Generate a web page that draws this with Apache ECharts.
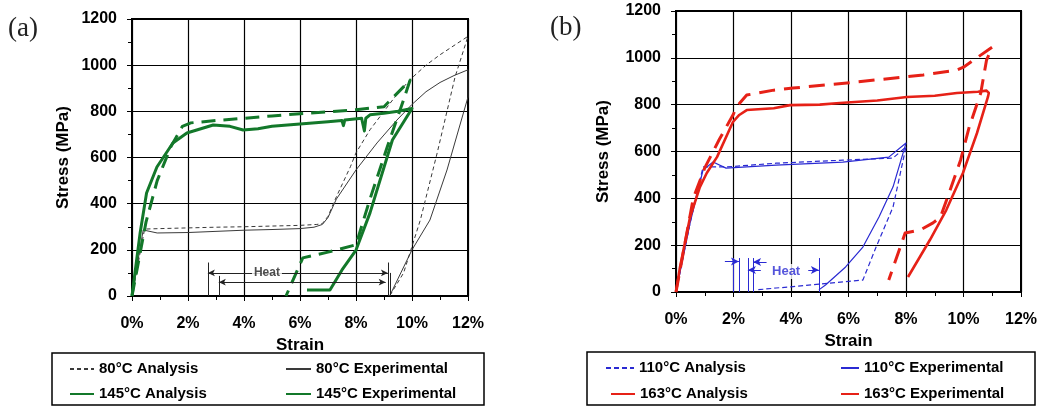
<!DOCTYPE html>
<html><head><meta charset="utf-8">
<script src="https://cdn.jsdelivr.net/npm/echarts@6/dist/echarts.min.js"></script>
<style>html,body{margin:0;padding:0;background:#fff}#c{width:1041px;height:407px}</style>
</head><body><div id="c"></div>
<script>
// ---------- tick labels ----------
const strainTicks = ['0%', '2%', '4%', '6%', '8%', '10%', '12%'];
const stressTicks = ['0', '200', '400', '600', '800', '1000', '1200'];

// ---------- panel (a) ----------
const a80AnaStrain = [0, 0.45, 1, 2, 3, 4, 5, 6, 6.6, 6.8, 7.0, 7.3, 7.8, 8.0, 8.5, 9.0, 9.5, 10, 10.5, 11, 11.5, 12, 11.54, 10.9, 10.3, 9.7, 9.2];
const a80AnaStress = [0, 290, 292, 295, 298, 300, 303, 306, 310, 314, 345, 430, 560, 620, 720, 800, 880, 945, 1000, 1045, 1085, 1125, 950, 620, 330, 100, 0];

const a80ExpStrain = [0, 0.4, 0.9, 2, 3, 4, 5, 6, 6.5, 6.8, 7.0, 7.3, 8.0, 8.75, 9.46, 10, 10.5, 11, 11.5, 12, 12, 11.25, 10.64, 10, 9.6, 9.2];
const a80ExpStress = [0, 286, 273, 275, 280, 285, 288, 292, 298, 310, 340, 420, 546, 663, 762, 830, 885, 925, 955, 980, 862, 546, 329, 200, 100, 0];

const a145AnaStrain = [0, 0.5, 0.9, 1.4, 1.8, 2.1, 3, 4, 5, 6, 7, 8, 9, 9.93, 9.7, 9.1, 8.5, 8.0, 7.0, 6.1, 5.9, 5.5];
const a145AnaStress = [0, 320, 500, 650, 735, 750, 760, 770, 780, 790, 798, 807, 820, 935, 850, 640, 420, 222, 190, 165, 110, 0];

const a145ExpStrain = [0, 0.29, 0.52, 0.89, 1.46, 1.96, 2.9, 3.5, 3.97, 4.5, 5, 6, 7, 7.5, 7.55, 7.6, 8.2, 8.3, 8.35, 8.5, 9, 9.5, 10, 9.93, 9.3, 8.5, 8.0, 7.5, 7.07, 6.25];
const a145ExpStress = [0, 273, 446, 559, 663, 706, 741, 735, 719, 725, 735, 745, 755, 760, 738, 762, 770, 715, 770, 785, 792, 800, 812, 806, 676, 360, 199, 113, 26, 26];

// heat annotation (a): vertical markers [strain, top stress] and arrows [from, to, stress]
const aHeatVert = [[2.71, 145], [3.1, 87], [9.14, 145], [9.22, 100]];
const aHeatArrows = [[2.71, 9.14, 100], [3.1, 9.06, 60]];
const aHeatText = [4.82, 100];

// ---------- panel (b) ----------
const b110AnaStrain = [0, 0.5, 0.94, 1.74, 3.48, 5.8, 7.55, 8.0, 7.55, 6.96, 6.5, 5.36, 4, 3.48, 2.8];
const b110AnaStress = [0, 300, 534, 534, 550, 563, 572, 620, 363, 192, 51, 38, 22, 17, 9];

const b110ExpStrain = [0, 0.5, 0.94, 1.29, 1.74, 3.48, 5.8, 7.4, 8.0, 7.55, 7.06, 6.5, 5.9, 5.2, 4.97];
const b110ExpStress = [0, 300, 521, 555, 529, 542, 555, 576, 636, 449, 320, 192, 107, 30, 9];

const b163AnaStrain = [0, 0.3, 0.6, 1.0, 1.5, 2.0, 2.1, 2.46, 3.4, 4.07, 6.3, 8.6, 9.77, 10.0, 11.0, 10.8, 10.6, 10.2, 9.9, 9.5, 9.2, 8.94, 8.5, 7.97, 7.8, 7.4];
const b163AnaStress = [0, 200, 400, 530, 650, 760, 790, 841, 862, 871, 897, 927, 948, 960, 1046, 990, 850, 705, 564, 423, 320, 295, 265, 252, 192, 51];

const b163ExpStrain = [0, 0.14, 0.49, 0.83, 1.07, 1.43, 1.98, 2.2, 2.46, 3.4, 3.97, 5.0, 5.7, 7.0, 8.03, 9.0, 9.77, 10.5, 10.8, 10.88, 10.85, 10.47, 9.98, 9.4, 8.83, 8.07];
const b163ExpStress = [0, 107, 320, 448, 508, 577, 726, 756, 777, 785, 798, 800, 807, 818, 833, 838, 850, 855, 860, 850, 833, 679, 508, 350, 222, 64];

const bHeatVert = [[1.98, 145], [2.19, 145], [2.5, 145], [2.68, 145], [4.97, 145]];
const bHeatArrows = [[1.7, 2.19, 130], [3.15, 2.68, 128], [2.95, 2.5, 94], [4.6, 4.97, 94]];
const bHeatText = [3.83, 88];

// ---------- build ----------
const FONT = 'Liberation Sans';
const zip = (xs, ys) => xs.map((x, i) => [x, ys[i]]);

function xAx(gi, gap) {
  return {
    type: 'value', gridIndex: gi, min: 0, max: 12, interval: 2,
    name: 'Strain', nameLocation: 'middle', nameGap: gap,
    nameTextStyle: { fontFamily: FONT, fontWeight: 'bold', fontSize: 17, color: '#000' },
    axisLine: { show: true, lineStyle: { color: '#000', width: 2 } },
    axisTick: { show: true, inside: false, length: 5, lineStyle: { color: '#000', width: 1 } },
    minorTick: { show: true, splitNumber: 2, length: 4, lineStyle: { color: '#000', width: 1 } },
    splitLine: { show: true, lineStyle: { color: '#000', width: 1.2 } },
    axisLabel: { margin: 20, fontFamily: FONT, fontWeight: 'bold', fontSize: 16, color: '#000',
      formatter: v => strainTicks[Math.round(v / 2)] }
  };
}
function yAx(gi, gap) {
  return {
    type: 'value', gridIndex: gi, min: 0, max: 1200, interval: 200,
    name: 'Stress (MPa)', nameLocation: 'middle', nameGap: gap,
    nameTextStyle: { fontFamily: FONT, fontWeight: 'bold', fontSize: 17, color: '#000' },
    axisLine: { show: true, lineStyle: { color: '#000', width: 2 } },
    axisTick: { show: true, inside: false, length: 5, lineStyle: { color: '#000', width: 1 } },
    minorTick: { show: true, splitNumber: 2, length: 4, lineStyle: { color: '#000', width: 1 } },
    splitLine: { show: true, lineStyle: { color: '#000', width: 1.2 } },
    axisLabel: { margin: 15, fontFamily: FONT, fontWeight: 'bold', fontSize: 16, color: '#000',
      formatter: v => stressTicks[Math.round(v / 200)] }
  };
}
function curve(name, xs, ys, gi, color, width, type) {
  return {
    name, type: 'line', xAxisIndex: gi, yAxisIndex: gi, data: zip(xs, ys),
    symbol: 'none', showSymbol: false, silent: true, animation: false,
    lineStyle: { color, width, type, cap: 'butt', join: 'round' },
    itemStyle: { color }
  };
}
function annot(gi, verts, arrows, txt, color, fontSize, doubleHead) {
  const ml = [];
  verts.forEach(v => ml.push([{ coord: [v[0], 0], symbol: 'none' }, { coord: [v[0], v[1]], symbol: 'none' }]));
  arrows.forEach(a => ml.push([
    { coord: [a[0], a[2]], symbol: doubleHead ? 'arrow' : 'none', symbolSize: [5, 7] },
    { coord: [a[1], a[2]], symbol: 'arrow', symbolSize: doubleHead ? [5, 7] : [6, 8] }]));
  return [{
    type: 'line', xAxisIndex: gi, yAxisIndex: gi, data: [], silent: true, animation: false,
    markLine: { silent: true, animation: false, symbol: ['none', 'none'], precision: 4,
      lineStyle: { color, width: 1, type: 'solid' }, label: { show: false }, emphasis: { disabled: true },
      data: ml }
  }, {
    type: 'scatter', xAxisIndex: gi, yAxisIndex: gi, data: [txt], symbolSize: 1, silent: true, animation: false,
    itemStyle: { color: 'rgba(0,0,0,0)' }, z: 5,
    label: { show: true, position: 'inside', formatter: 'Heat', fontFamily: FONT, fontWeight: 'bold',
      fontSize, color, backgroundColor: '#fff', padding: [1, 2] }
  }];
}

const GREY = '#3a3a3a', GREEN = '#13782a', RED = '#e62117', BLUE = '#2a2ad2';

function leg(name, left, cy, w, extra) {
  return Object.assign({
    data: [name], left, top: cy - 8, padding: 0, itemWidth: w, itemHeight: 14, itemGap: 0,
    selectedMode: false,
    itemStyle: { opacity: 0, borderWidth: 0 },
    textStyle: { fontFamily: FONT, fontWeight: 'bold', fontSize: 15, color: '#000', lineHeight: 16 }
  }, extra || {});
}

const option = {
  animation: false,
  backgroundColor: '#fff',
  grid: [
    { left: 132, top: 19, width: 336, height: 277, show: true, borderColor: '#000', borderWidth: 2, backgroundColor: 'rgba(0,0,0,0)' },
    { left: 676, top: 11, width: 345, height: 281, show: true, borderColor: '#000', borderWidth: 2, backgroundColor: 'rgba(0,0,0,0)' }
  ],
  xAxis: [xAx(0, 34), xAx(1, 33)],
  yAxis: [yAx(0, 60), yAx(1, 64)],
  legend: [
    leg('80°C Analysis', 69, 369, 24),
    leg('80°C Experimental', 285, 369, 25),
    leg('145°C Analysis', 69, 394, 24, { lineStyle: { type: 'solid' } }),
    leg('145°C Experimental', 285, 394, 25),
    leg('110°C Analysis', 605, 368, 28),
    leg('110°C Experimental', 840, 368, 18),
    leg('163°C Analysis', 610, 394, 24, { lineStyle: { type: 'solid' } }),
    leg('163°C Experimental', 840, 394, 18)
  ],
  graphic: [
    { type: 'rect', shape: { x: 52, y: 353, width: 432, height: 52 }, style: { fill: 'none', stroke: '#000', lineWidth: 1.5 }, silent: true },
    { type: 'rect', shape: { x: 587, y: 352, width: 448, height: 53 }, style: { fill: 'none', stroke: '#000', lineWidth: 1.5 }, silent: true },
    { type: 'text', left: 8, top: 15, style: { text: '(a)', font: '27px "Liberation Serif"', fill: '#222' }, silent: true },
    { type: 'text', left: 550, top: 14, style: { text: '(b)', font: '27px "Liberation Serif"', fill: '#222' }, silent: true }
  ],
  series: [
    curve('80°C Analysis', a80AnaStrain, a80AnaStress, 0, GREY, 1, [4, 3]),
    curve('80°C Experimental', a80ExpStrain, a80ExpStress, 0, GREY, 1, 'solid'),
    curve('145°C Analysis', a145AnaStrain, a145AnaStress, 0, GREEN, 3, [14, 8]),
    curve('145°C Experimental', a145ExpStrain, a145ExpStress, 0, GREEN, 3, 'solid'),
    ...annot(0, aHeatVert, aHeatArrows, aHeatText, '#222', 12, true),
    curve('110°C Analysis', b110AnaStrain, b110AnaStress, 1, BLUE, 1.2, [5, 3]),
    curve('110°C Experimental', b110ExpStrain, b110ExpStress, 1, BLUE, 1.2, 'solid'),
    curve('163°C Analysis', b163AnaStrain, b163AnaStress, 1, RED, 3, [16, 9]),
    curve('163°C Experimental', b163ExpStrain, b163ExpStress, 1, RED, 2.6, 'solid'),
    ...annot(1, bHeatVert, bHeatArrows, bHeatText, BLUE, 13, false)
  ]
};
const chart = echarts.init(document.getElementById('c'), null, { renderer: 'canvas' });
chart.setOption(option);
</script></body></html>
